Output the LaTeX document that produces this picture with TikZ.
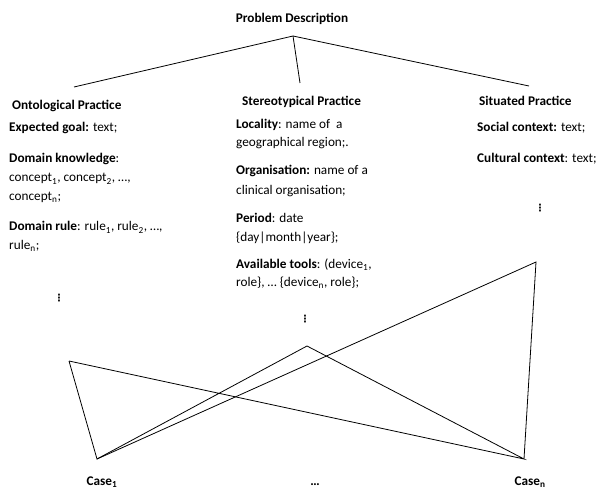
\documentclass[tikz,border=0pt]{standalone}
\usepackage{fontspec}
\setmainfont{Carlito}
\newfontfamily\symfont{DejaVu Sans}
\begin{document}
\begin{tikzpicture}[x=1bp,y=-1bp,
  txt/.style={anchor=base west,inner sep=0pt,font=\fontsize{13.3}{16}\selectfont},
  head/.style={anchor=base west,inner sep=0pt,font=\fontsize{13.3}{16}\selectfont\bfseries},
  vd/.style={inner sep=0pt,font=\symfont\bfseries\fontsize{10}{10}\selectfont},
  link/.style={line width=0.8bp,line join=miter}]
\useasboundingbox (0,0) rectangle (601,489);

% title and branching lines
\node[head,anchor=base] (pd) at (292,23) {Problem Description};
\coordinate (apex) at (293,36);
\coordinate (lend) at (74,87);
\coordinate (mend) at (300,83);
\coordinate (rend) at (529,86);
\draw[link] (lend) -- (apex) -- (rend);
\draw[link] (apex) -- (mend);

% ontological column
\node[head] (onto) at (12,110) {Ontological Practice};
\node[txt] (goal) at (9,132) {\textbf{Expected goal:} text;};
\node[txt] (dk) at (9,163) {\textbf{Domain knowledge}:};
\node[txt] (dk1) at (9,182) {concept\textsubscript{1}, concept\textsubscript{2}, …,};
\node[txt] (dk2) at (9,200.5) {concept\textsubscript{n};};
\node[txt] (dr) at (9,231) {\textbf{Domain rule}: rule\textsubscript{1}, rule\textsubscript{2}, …,};
\node[txt] (dr2) at (9,249.5) {rule\textsubscript{n};};
\node[vd] (dotsl) at (59,298) {⋮};

% stereotypical column
\node[head] (stereo) at (242,106) {Stereotypical Practice};
\node[txt] (loc) at (236,129) {\textbf{Locality}: name of\ \ a};
\node[txt] (loc2) at (236,147) {geographical region;.};
\node[txt] (org) at (236,175) {\textbf{Organisation:} name of a};
\node[txt] (org2) at (236,194.5) {clinical organisation;};
\node[txt] (per) at (236,223) {\textbf{Period}: date};
\node[txt] (per2) at (236,241.5) {\{day|month|year\};};
\node[txt] (tools) at (236,268) {\textbf{Available tools}: (device\textsubscript{1},};
\node[txt] (tools2) at (236,286.5) {role\}, … \{device\textsubscript{n}, role\};};
\node[vd] (dotsm) at (305,319) {⋮};

% situated column
\node[head] (situ) at (479,106) {Situated Practice};
\node[txt] (soc) at (477,132) {\textbf{Social context:} text;};
\node[txt] (cul) at (477,163) {\textbf{Cultural context}: text;};
\node[vd] (dotsr) at (540,208) {⋮};

% cases
\node[head,anchor=base] (case1) at (102,485) {Case\textsubscript{1}};
\node[head,anchor=base] (cdots) at (315,485) {…};
\node[head,anchor=base] (casen) at (530,485) {Case\textsubscript{n}};

% links between practices and cases
\coordinate (ta) at (69,361);
\coordinate (tm) at (307,346);
\coordinate (tr) at (536,262);
\coordinate (v1) at (97,459);
\coordinate (vn) at (524,459);
\draw[link] (ta) -- (v1) -- (tm) -- (vn) -- (ta);
\draw[link] (v1) -- (tr) -- (vn);
\end{tikzpicture}
\end{document}
